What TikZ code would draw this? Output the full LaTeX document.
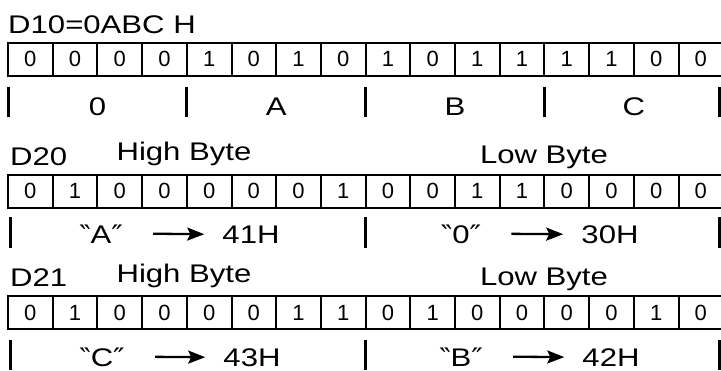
\documentclass[tikz,border=0pt]{standalone}
\usepackage{fontspec}
\setmainfont{Liberation Sans}
\newfontfamily\widesans[FakeStretch=1.22]{Liberation Sans}
\newfontfamily\quotefont[FakeStretch=1.22]{DejaVu Sans}
\usetikzlibrary{arrows.meta}

\newcommand{\openq}{{\quotefont ‶}}
\newcommand{\closeq}{{\quotefont ″}}

\tikzset{
  bitcell/.style={draw, line width=2pt, minimum width=44.7pt, minimum height=33pt,
    inner sep=0pt, font=\fontsize{22}{22}\selectfont},
  nibtick/.style={line width=3pt},
  biglabel/.style={inner sep=0pt, anchor=base, font=\widesans\fontsize{25.5}{25.5}\selectfont},
  conv/.style={line width=2.3pt, -{Stealth[length=17pt,width=13pt,inset=3pt]}},
}

\begin{document}
\begin{tikzpicture}[x=1pt,y=-1pt]
    \clip (0,0) rectangle (721,370);

    % D10 = 0ABC H
    \node[biglabel, anchor=base west] (t10) at (8,33) {D10=0ABC H};
    \foreach \b [count=\i] in {0,0,0,0,1,0,1,0,1,0,1,1,1,1,0,0}
        \node[bitcell] (a\i) at ({8+(\i-0.5)*44.7},59) {\b};
    \foreach \x in {8,186.8,365.6,544.4,719}
        \draw[nibtick] (\x,87) -- (\x,117);
    \node[biglabel] (n0) at (97.4,115) {0};
    \node[biglabel] (nA) at (276.2,115) {A};
    \node[biglabel] (nB) at (455,115) {B};
    \node[biglabel] (nC) at (633.8,115) {C};

    % D20 = "A0"
    \node[biglabel, anchor=base west] (t20) at (10,165) {D20};
    \node[biglabel] (hi20) at (184,160) {High Byte};
    \node[biglabel] (lo20) at (544,163) {Low Byte};
    \foreach \b [count=\i] in {0,1,0,0,0,0,0,1,0,0,1,1,0,0,0,0}
        \node[bitcell] (b\i) at ({8+(\i-0.5)*44.7},191) {\b};
    \foreach \x in {10,365.6,719}
        \draw[nibtick] (\x,217) -- (\x,248);
    \node[biglabel] (qA) at (101,243) {\openq A\closeq};
    \node[biglabel] (hA) at (251,243) {41H};
    \draw[conv] ([xshift=30pt]qA.east) -- ([xshift=-18pt]hA.west);
    \node[biglabel] (q0) at (461,243) {\openq 0\closeq};
    \node[biglabel] (h0) at (610,243) {30H};
    \draw[conv] ([xshift=30pt]q0.east) -- ([xshift=-18pt]h0.west);

    % D21 = "CB"
    \node[biglabel, anchor=base west] (t21) at (10,286) {D21};
    \node[biglabel] (hi21) at (184,282) {High Byte};
    \node[biglabel] (lo21) at (544,285) {Low Byte};
    \foreach \b [count=\i] in {0,1,0,0,0,0,1,1,0,1,0,0,0,0,1,0}
        \node[bitcell] (c\i) at ({8+(\i-0.5)*44.7},312.5) {\b};
    \foreach \x in {10,365.6,719}
        \draw[nibtick] (\x,340) -- (\x,370);
    \node[biglabel] (qC) at (102,366) {\openq C\closeq};
    \node[biglabel] (hC) at (252,366) {43H};
    \draw[conv] ([xshift=30pt]qC.east) -- ([xshift=-18pt]hC.west);
    \node[biglabel] (qB) at (461,366) {\openq B\closeq};
    \node[biglabel] (hB) at (611,366) {42H};
    \draw[conv] ([xshift=30pt]qB.east) -- ([xshift=-18pt]hB.west);
\end{tikzpicture}
\end{document}
